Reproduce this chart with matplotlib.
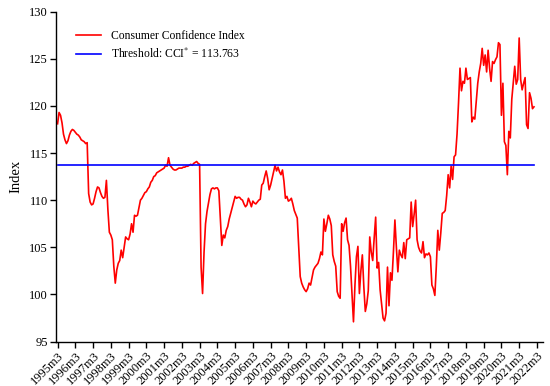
import matplotlib.pyplot as plt
import numpy as np

plt.rcParams['font.family'] = ['Liberation Serif', 'DejaVu Serif']
plt.rcParams['mathtext.fontset'] = 'stix'

# monthly consumer confidence index, 1995m3 .. 2022m1 (one row per year, Mar-Feb)
cci = [
    118.1, 119.3, 119.0, 118.2, 117.0, 116.4, 116.0, 116.3, 116.9, 117.3, 117.5, 117.4,
    117.2, 117.0, 116.9, 116.7, 116.4, 116.3, 116.2, 116.0, 116.1, 110.7, 109.8, 109.5,
    109.6, 110.2, 110.9, 111.4, 111.3, 110.8, 110.4, 110.2, 110.3, 112.1, 109.0, 106.6,
    106.3, 105.8, 103.0, 101.2, 102.6, 103.3, 103.6, 104.7, 103.9, 105.0, 106.1, 105.9,
    105.8, 106.4, 107.5, 106.6, 108.4, 108.3, 108.4, 109.2, 110.0, 110.2, 110.5, 110.8,
    110.9, 111.2, 111.4, 111.9, 112.1, 112.5, 112.6, 112.9, 113.0, 113.1, 113.2, 113.3,
    113.4, 113.7, 113.6, 114.5, 113.7, 113.5, 113.3, 113.2, 113.2, 113.3, 113.4, 113.4,
    113.4, 113.5, 113.5, 113.6, 113.6, 113.7, 113.8, 113.7, 113.9, 114.0, 114.1, 113.9,
    113.8, 102.9, 100.1, 104.5, 107.5, 108.8, 109.7, 110.6, 111.2, 111.3, 111.2, 111.3,
    111.3, 111.0, 108.0, 105.2, 106.3, 106.0, 106.8, 107.2, 108.0, 108.6, 109.2, 109.8,
    110.4, 110.2, 110.3, 110.3, 110.1, 110.0, 109.6, 109.3, 109.5, 110.2, 109.8, 109.3,
    109.9, 109.7, 109.6, 109.8, 110.0, 110.1, 111.6, 111.8, 112.5, 113.1, 112.3, 111.1,
    111.6, 112.3, 113.0, 113.7, 113.1, 113.5, 113.0, 112.7, 113.2, 112.0, 110.2, 110.4,
    109.9, 110.0, 110.2, 109.6, 108.9, 108.5, 108.1, 105.0, 101.9, 101.2, 100.8, 100.5,
    100.3, 100.6, 101.2, 101.0, 101.8, 102.6, 102.9, 103.1, 103.3, 103.8, 104.5, 104.2,
    108.0, 106.7, 107.5, 108.4, 108.0, 107.3, 104.2, 103.5, 103.0, 100.3, 99.8, 99.6,
    107.5, 106.7, 107.6, 108.1, 105.8, 105.2, 103.0, 100.0, 97.1, 101.0, 104.0, 105.1,
    100.1, 102.5, 104.2, 100.8, 98.2, 99.0, 100.4, 106.1, 104.5, 103.6, 106.0, 108.2,
    102.8, 103.4, 100.5, 99.0, 97.5, 97.2, 98.0, 102.9, 98.8, 102.3, 101.5, 104.5,
    107.9, 105.0, 102.4, 104.7, 104.2, 103.9, 105.5, 103.8, 105.8, 105.9, 106.0, 109.8,
    107.2, 108.5, 110.0, 105.8, 105.0, 104.6, 104.4, 105.6, 103.9, 104.3, 104.2, 104.4,
    104.0, 101.0, 100.6, 99.9, 103.0, 106.8, 104.7, 106.5, 108.6, 108.7, 108.9, 110.5,
    112.7, 111.3, 113.6, 112.2, 114.6, 114.8, 117.0, 120.3, 124.0, 121.6, 122.6, 122.4,
    124.0, 122.8, 122.9, 123.0, 118.3, 118.8, 118.6, 120.5, 122.4, 123.6, 124.5, 126.1,
    124.3, 125.4, 123.6, 125.9, 124.0, 122.6, 124.7, 124.5, 124.9, 125.2, 126.7, 126.5,
    119.0, 122.4, 116.2, 115.8, 112.7, 117.3, 116.6, 120.7, 122.5, 124.2, 122.3, 122.8,
    127.2, 122.8, 121.7, 122.4, 123.0, 118.0, 117.6, 121.4, 120.8, 119.7, 119.9,
]
threshold = 113.763
years = list(range(1995, 2023))
tick_labels = [f'{y}m3' for y in years]

months = np.arange(len(cci))

fig = plt.figure(figsize=(5.5, 3.86), dpi=100)
ax = fig.add_axes([0.102, 0.115, 0.885, 0.855])

ax.plot(months, cci, color='red', lw=1.2, label='Consumer Confidence Index')
ax.plot([months[0], months[-1]], [threshold, threshold], color='blue', lw=1.2,
        label=r'Threshold: CCI$^{*}$ = 113.763')

ax.set_xlim(-1, 328)
ax.set_ylim(95, 130)
ax.set_yticks(range(95, 131, 5))
ax.set_xticks([12 * i for i in range(len(years))])
ax.set_xticklabels(tick_labels, rotation=45, ha='right', rotation_mode='anchor')
ax.tick_params(labelsize=9, direction='out', length=4, width=1, pad=2)
ax.set_ylabel('Index', fontsize=10.5, labelpad=5)

for s in ['top', 'right']:
    ax.spines[s].set_visible(False)
for s in ['left', 'bottom']:
    ax.spines[s].set_linewidth(1)

ax.legend(loc='upper left', bbox_to_anchor=(0.02, 0.975), frameon=False, fontsize=8.4,
          handlelength=2.1, handletextpad=0.9, labelspacing=0.4)

fig.savefig('out.png', dpi=100)
